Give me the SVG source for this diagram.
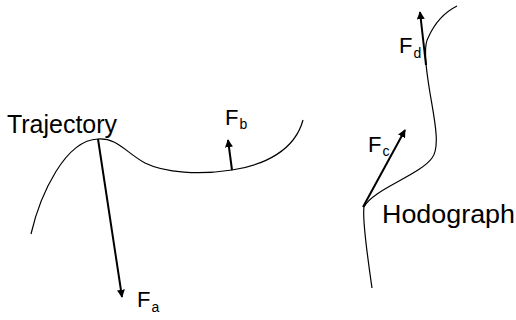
<svg xmlns="http://www.w3.org/2000/svg" width="516" height="320" viewBox="0 0 516 320">
<defs>
<marker id="ah" viewBox="0 0 10 10" refX="9" refY="5" markerWidth="4" markerHeight="4" orient="auto" markerUnits="strokeWidth">
<path d="M0,0 L10,5 L0,10 Z" fill="#000"/>
</marker>
<style>
.curve{fill:none;stroke:#000;stroke-width:1.2}
.force{fill:none;stroke:#000;stroke-width:2;marker-end:url(#ah)}
.lbl{font-family:"Liberation Sans",Arial,sans-serif;fill:#000}
.big{font-size:26px}
.f{font-size:22px}
.sub{font-size:14px}
</style>
</defs>
<rect width="516" height="320" fill="#fff"/>
<g id="trajectory">
<path class="curve" d="M31,234 C40,195 65,140 98,139 C118,138 125,152 145,163 C165,173 200,175 232,170 C265,165 295,150 303,120"/>
<text class="lbl big" x="7" y="133" textLength="110" lengthAdjust="spacingAndGlyphs">Trajectory</text>
</g>
<g id="hodograph">
<path class="curve" d="M372,288 C368,260 362,220 364,207 C372,190 420,175 432,158 C442,145 432,110 428,80 C425,60 424,45 428,38 C435,22 445,12 457,6"/>
<text class="lbl big" x="382" y="223" textLength="133" lengthAdjust="spacingAndGlyphs">Hodograph</text>
</g>
<g id="connectors">
<path class="force" d="M98,139 L122,297"/>
<path class="force" d="M232,170 L228,140"/>
<path class="force" d="M363,207 L405,130"/>
<path class="force" d="M426,65 L420,12"/>
</g>
<g id="labels">
<text class="lbl f" x="137" y="307">F<tspan class="sub" dx="1" dy="5">a</tspan></text>
<text class="lbl f" x="225" y="125">F<tspan class="sub" dx="1" dy="4">b</tspan></text>
<text class="lbl f" x="368" y="152">F<tspan class="sub" dx="1" dy="4">c</tspan></text>
<text class="lbl f" x="399" y="53">F<tspan class="sub" dx="1" dy="5">d</tspan></text>
</g>
</svg>
